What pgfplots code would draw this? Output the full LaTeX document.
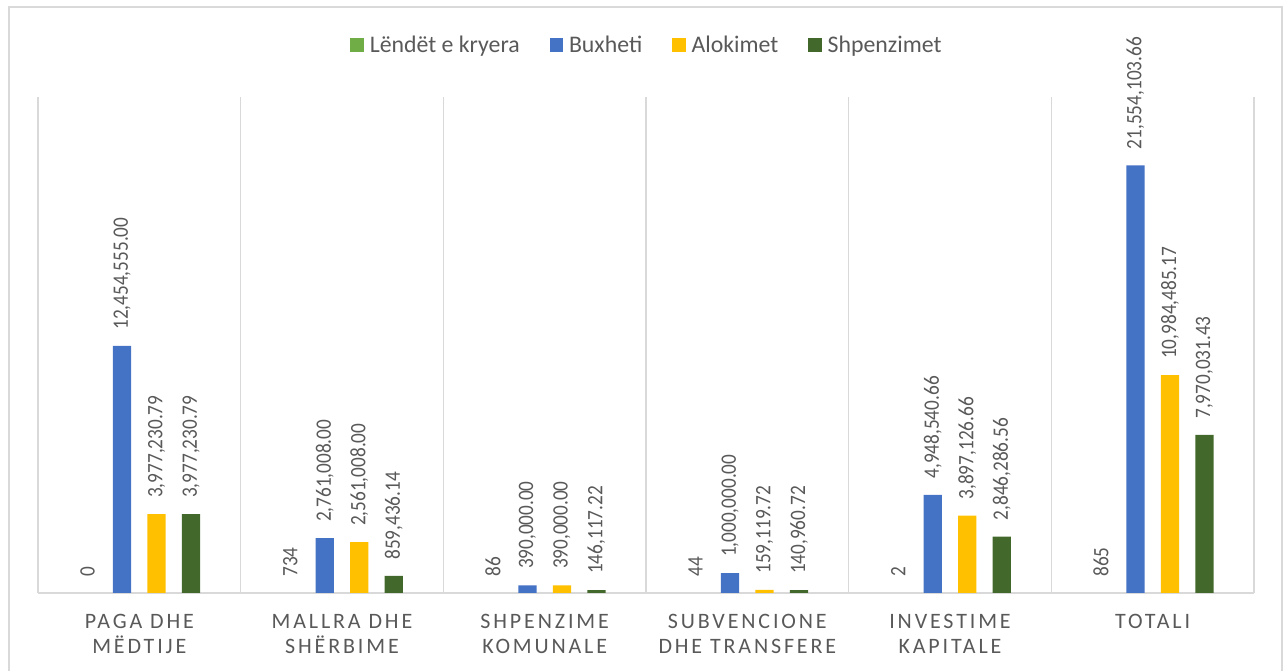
\documentclass[border=0pt]{standalone}
\usepackage{pgfplots}
\pgfplotsset{compat=1.18}
\usepackage{fontspec}
\setmainfont{Carlito}
\newfontfamily\vlabfont[FakeStretch=0.875]{Carlito}
\newfontfamily\catfont[LetterSpace=13]{Carlito}
\definecolor{cLend}{HTML}{70AD47}
\definecolor{cBux}{HTML}{4472C4}
\definecolor{cAlo}{HTML}{FFC000}
\definecolor{cShp}{HTML}{43682B}
\definecolor{gridgray}{HTML}{D9D9D9}
\definecolor{labgray}{HTML}{595959}
\begin{document}
\begin{tikzpicture}
\path[use as bounding box] (0,0) rectangle (962.25pt,503.25pt);
\draw[color=gridgray, line width=1pt] (6.75pt,-10pt) rectangle (961.5pt,498pt);
\begin{axis}[
  at={(28.5pt,58.5pt)}, anchor=south west,
  scale only axis, width=912pt, height=372pt,
  xmin=-0.5, xmax=5.5, ymin=0, ymax=25000000,
  axis y line=none, axis x line*=bottom,
  x axis line style={draw=gridgray, line width=1pt},
  xtick={0,1,2,3,4,5},
  xticklabels={{PAGA DHE\\MËDTIJE},{MALLRA DHE\\SHËRBIME},{SHPENZIME\\KOMUNALE},{SUBVENCIONE\\DHE TRANSFERE},{INVESTIME\\KAPITALE},{TOTALI}},
  minor xtick={-0.5,0.5,1.5,2.5,3.5,4.5,5.5},
  xminorgrids=true,
  minor grid style={draw=gridgray, line width=1pt},
  major tick length=0pt, minor tick length=0pt,
  xticklabel style={align=center, font=\catfont\fontsize{16.5pt}{18.75pt}\selectfont, text=labgray, inner sep=0pt, yshift=-15.75pt},
  ybar, bar width=13.7pt,
  clip=false,
  point meta=explicit symbolic,
  nodes near coords,
  every node near coord/.append style={rotate=90, anchor=west, font=\vlabfont\fontsize{16.5pt}{18pt}\selectfont, text=labgray, inner xsep=12pt, inner ysep=0pt},
  legend columns=4,
  legend cell align=left,
  legend style={at={(0.5,1)}, anchor=center, yshift=39pt, draw=none, fill=none,
    font=\fontsize{17.85pt}{20pt}\selectfont, text=labgray,
    nodes={inner sep=0pt},
    /tikz/every even column/.append style={column sep=22.5pt},
    /tikz/every odd column/.append style={column sep=4.5pt}},
  legend image code/.code={\fill[#1] (0pt,-5pt) rectangle (10pt,5pt);},
]
\addlegendimage{fill=cLend, draw=none}
\addplot[fill=none, draw=none, bar shift=-38.81pt, forget plot] coordinates {
  (0,0) [0]
  (1,734) [734]
  (2,86) [86]
  (3,44) [44]
  (4,2) [2]
  (5,865) [865]
};
\addplot[fill=cBux, draw=none, bar shift=-12.94pt] coordinates {
  (0,12454555.00) [12,454,555.00]
  (1,2761008.00) [2,761,008.00]
  (2,390000.00) [390,000.00]
  (3,1000000.00) [1,000,000.00]
  (4,4948540.66) [4,948,540.66]
  (5,21554103.66) [21,554,103.66]
};
\addplot[fill=cAlo, draw=none, bar shift=12.94pt] coordinates {
  (0,3977230.79) [3,977,230.79]
  (1,2561008.00) [2,561,008.00]
  (2,390000.00) [390,000.00]
  (3,159119.72) [159,119.72]
  (4,3897126.66) [3,897,126.66]
  (5,10984485.17) [10,984,485.17]
};
\addplot[fill=cShp, draw=none, bar shift=38.81pt] coordinates {
  (0,3977230.79) [3,977,230.79]
  (1,859436.14) [859,436.14]
  (2,146117.22) [146,117.22]
  (3,140960.72) [140,960.72]
  (4,2846286.56) [2,846,286.56]
  (5,7970031.43) [7,970,031.43]
};
\legend{Lëndët e kryera, Buxheti, Alokimet, Shpenzimet}
\end{axis}
\end{tikzpicture}
\end{document}
